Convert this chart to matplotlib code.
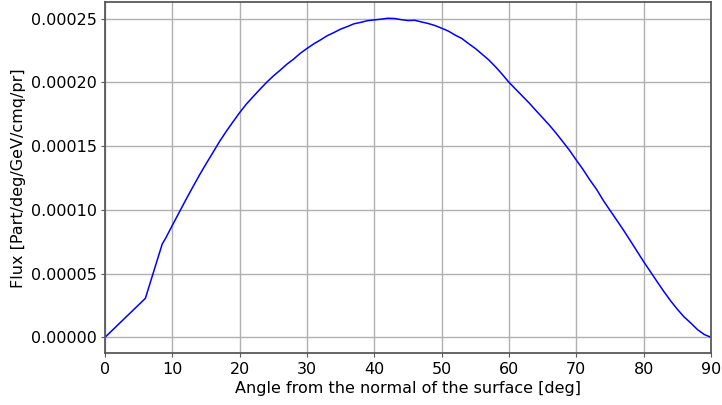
import numpy as np
import matplotlib
matplotlib.use("Agg")
import matplotlib.pyplot as plt
from matplotlib.ticker import FormatStrFormatter

# angle [deg]
angolo = [0, 6, 8.5, 9, 10, 11, 12, 13, 14, 15, 16, 17, 18, 19, 20,
          21, 22, 23, 24, 25, 26, 27, 28, 29, 30, 31, 32, 33, 34, 35,
          36, 37, 38, 39, 40, 41, 42, 43, 44, 45, 46, 47, 48, 49, 50,
          51, 52, 53, 54, 55, 56, 57, 58, 59, 60, 61, 62, 63, 64, 65,
          66, 67, 68, 69, 70, 71, 72, 73, 74, 75, 76, 77, 78, 79, 80,
          81, 82, 83, 84, 85, 86, 87, 88, 89, 90]
# flux in units of 1e-4
flusso = [0.0, 0.306, 0.732, 0.777, 0.878, 0.978, 1.078, 1.175, 1.27, 1.36, 1.447, 1.535, 1.615, 1.69, 1.763,
          1.83, 1.888, 1.945, 2.0, 2.05, 2.095, 2.142, 2.182, 2.228, 2.266, 2.302, 2.333, 2.366, 2.391, 2.418,
          2.438, 2.46, 2.471, 2.484, 2.49, 2.496, 2.503, 2.501, 2.492, 2.485, 2.487, 2.474, 2.462, 2.446, 2.425,
          2.402, 2.371, 2.344, 2.304, 2.266, 2.221, 2.176, 2.122, 2.063, 2.0, 1.946, 1.892, 1.838, 1.779, 1.722,
          1.664, 1.601, 1.534, 1.466, 1.39, 1.316, 1.235, 1.161, 1.074, 0.996, 0.919, 0.841, 0.759, 0.676, 0.593,
          0.515, 0.436, 0.359, 0.286, 0.22, 0.16, 0.112, 0.06, 0.022, 0.0]

flusso = np.array(flusso) * 1e-4

fig = plt.figure(figsize=(7.22, 4.05), dpi=100)
ax = fig.add_axes([0.1454, 0.1277, 0.8394, 0.8666])
ax.plot(angolo, flusso, color="b", linewidth=1.1)
ax.set_xlim(0, 90)
ax.set_xticks(np.arange(0, 91, 10))
ax.set_yticks(np.arange(0, 0.00026, 0.00005))
ax.yaxis.set_major_formatter(FormatStrFormatter("%.5f"))
ax.tick_params(labelsize=11.5, length=3, pad=3, color="0.35")
ax.set_xlabel("Angle from the normal of the surface [deg]", fontsize=11.5, labelpad=3)
ax.set_ylabel("Flux [Part/deg/GeV/cmq/pr]", fontsize=11.5, labelpad=3)
for s in ax.spines.values():
    s.set_color("0.35")
    s.set_linewidth(1.3)
ax.grid(True, color="#b0b0b0", linewidth=1)
fig.savefig("out.png", dpi=100)
